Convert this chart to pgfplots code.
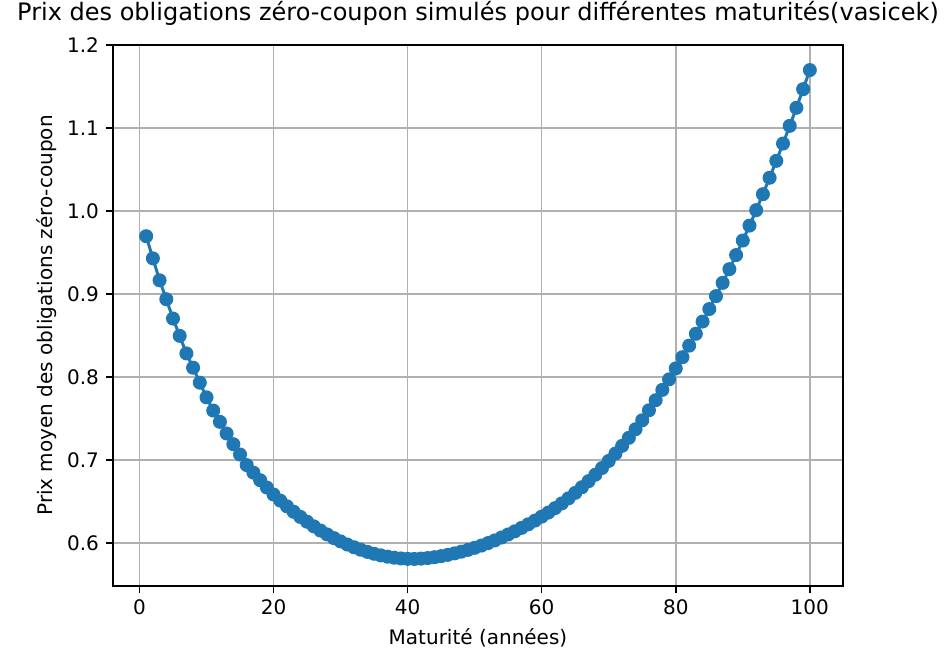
\documentclass[border=0pt]{standalone}
\usepackage{fontspec}
\setmainfont{DejaVu Sans}
\usepackage{pgfplots}
\usepackage{pgfplotstable}
\pgfplotsset{compat=1.18}
\definecolor{mplblue}{HTML}{1F77B4}
\definecolor{gridgray}{HTML}{B0B0B0}

% Mean simulated zero-coupon bond price per maturity (Vasicek model)
\pgfplotstableread{
T P
1 0.9697
2 0.9430
3 0.9166
4 0.8938
5 0.8705
6 0.8497
7 0.8285
8 0.8113
9 0.7933
10 0.7756
11 0.7597
12 0.7461
13 0.7321
14 0.7192
15 0.7068
16 0.6940
17 0.6849
18 0.6758
19 0.6670
20 0.6586
21 0.6513
22 0.6444
23 0.6378
24 0.6316
25 0.6258
26 0.6203
27 0.6152
28 0.6105
29 0.6061
30 0.6021
31 0.5984
32 0.5951
33 0.5921
34 0.5895
35 0.5872
36 0.5853
37 0.5837
38 0.5825
39 0.5816
40 0.5811
41 0.5810
42 0.5814
43 0.5821
44 0.5831
45 0.5844
46 0.5859
47 0.5877
48 0.5897
49 0.5919
50 0.5944
51 0.5971
52 0.6001
53 0.6033
54 0.6068
55 0.6105
56 0.6143
57 0.6184
58 0.6227
59 0.6272
60 0.6320
61 0.6369
62 0.6422
63 0.6479
64 0.6540
65 0.6605
66 0.6674
67 0.6747
68 0.6824
69 0.6905
70 0.6990
71 0.7079
72 0.7172
73 0.7269
74 0.7372
75 0.7480
76 0.7600
77 0.7722
78 0.7846
79 0.7973
80 0.8105
81 0.8240
82 0.8379
83 0.8522
84 0.8669
85 0.8820
86 0.8975
87 0.9135
88 0.9300
89 0.9470
90 0.9645
91 0.9825
92 1.0011
93 1.0203
94 1.0401
95 1.0605
96 1.0813
97 1.1026
98 1.1244
99 1.1468
100 1.1698
}\bondprices

\begin{document}
\begin{tikzpicture}
\useasboundingbox (-56.5pt,-31pt) rectangle (416pt,293pt);
\begin{axis}[
  scale only axis,
  width=365pt, height=270.5pt,
  xmin=-3.95, xmax=104.95,
  ymin=0.5484, ymax=1.2,
  xtick={0,20,40,60,80,100},
  ytick={0.6,0.7,0.8,0.9,1.0,1.1,1.2},
  yticklabels={0.6,0.7,0.8,0.9,1.0,1.1,1.2},
  tick pos=left,
  tick align=outside,
  major tick length=3.5pt,
  tick style={black, line width=0.8pt},
  axis line style={line width=0.8pt},
  grid=major,
  major grid style={gridgray, line width=0.8pt},
  /pgf/number format/assume math mode=true,
  tick label style={font=\fontsize{10}{12}\selectfont, text=black},
  label style={font=\fontsize{10}{12}\selectfont, text=black},
  ylabel style={xshift=0pt, yshift=-1.5pt},
  title style={font=\fontsize{12}{14}\selectfont, text=black},
  title={Prix des obligations zéro-coupon simulés pour différentes maturités(vasicek)},
  xlabel={Maturité (années)},
  ylabel={Prix moyen des obligations zéro-coupon},
]
\addplot[mplblue, line width=1.5pt, mark=*, mark size=3pt,
  mark options={solid, fill=mplblue, draw=mplblue, line width=1pt}]
  table[x=T, y=P] {\bondprices};
\end{axis}
\end{tikzpicture}
\end{document}
